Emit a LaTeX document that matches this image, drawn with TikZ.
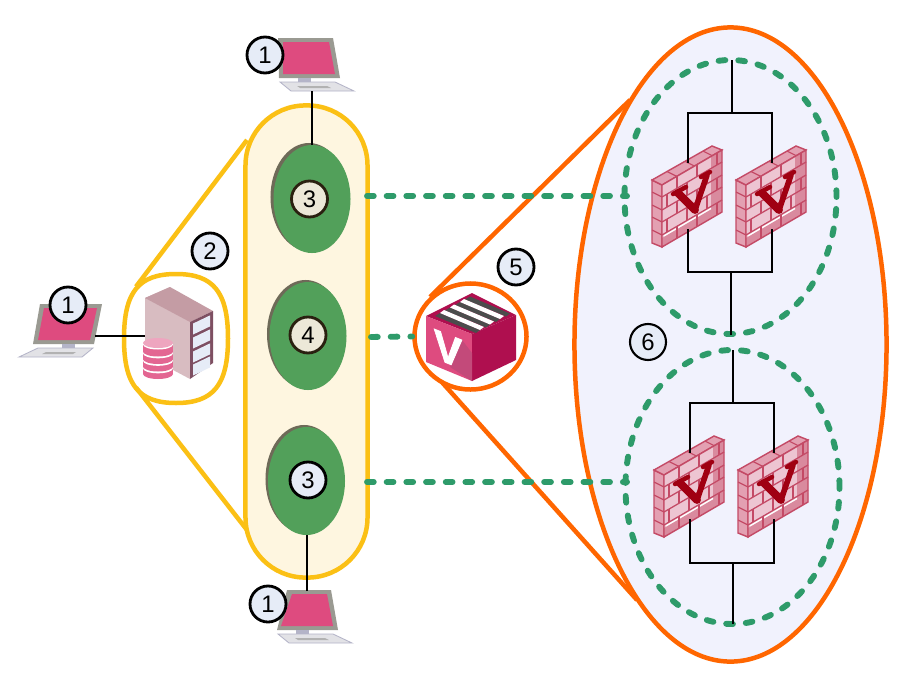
\documentclass[tikz,border=0pt]{standalone}
\usepackage{fontspec}
\setmainfont{Liberation Sans}
\newfontfamily\markfont[BoldFeatures={FakeBold=2}]{Liberation Sans}
\usetikzlibrary{shapes.geometric}
\definecolor{hubyellow}{HTML}{FBC015}
\definecolor{hubfill}{HTML}{FEF6E0}
\definecolor{vaultorange}{HTML}{FF6600}
\definecolor{vaultfill}{HTML}{F1F2FD}
\definecolor{zonegreen}{HTML}{52A05A}
\definecolor{zoneshade}{HTML}{6E6A58}
\definecolor{linkgreen}{HTML}{2E9B6A}
\definecolor{badgeblue}{HTML}{E6ECF7}
\definecolor{badgecream}{HTML}{ECE8D8}
\definecolor{badgedark}{HTML}{2A2010}
\definecolor{screenpink}{HTML}{DE4B7F}
\definecolor{framegrey}{HTML}{9A9A92}
\definecolor{standgrey}{HTML}{B4B4C8}
\definecolor{keysgrey}{HTML}{E2E2E6}
\definecolor{boxdark}{HTML}{AF0F4F}
\definecolor{boxmid}{HTML}{C34A7A}
\definecolor{brickface}{HTML}{EDC5D2}
\definecolor{brickside}{HTML}{E3A0B2}
\definecolor{brickshade}{HTML}{D98A9E}
\definecolor{brickline}{HTML}{C44A66}
\definecolor{markred}{HTML}{A00012}
\definecolor{towerleft}{HTML}{D8BCC1}
\definecolor{towertop}{HTML}{C49CA4}
\definecolor{towerdark}{HTML}{7E4F62}
\tikzset{
  badge/.style={draw=black, fill=badgeblue, circle, line width=2pt, minimum size=0.9cm, inner sep=0pt, font=\fontsize{17}{17}\selectfont},
  badgezone/.style={badge, draw=badgedark, fill=badgecream},
  zonenode/.style={ellipse, fill=zonegreen, minimum width=1.925cm, minimum height=2.7cm, inner sep=0pt},
  zoneback/.style={zonenode, fill=zoneshade},
  wire/.style={draw=black, line width=1.9pt},
  hubline/.style={draw=hubyellow, line width=3.2pt},
  vaultline/.style={draw=vaultorange, line width=3.2pt},
  tunnel/.style={draw=linkgreen, line width=4.2pt, line cap=round, dash pattern=on 4.8pt off 9.2pt},
  pics/laptop/.style 2 args={code={
    \fill[framegrey] (#1,-39) -- (#2,-39) -- (26,1) -- (-35,1) -- cycle;
    \fill[screenpink] (#1+4,-35) -- (#2-5,-35) -- (22,-3) -- (-30,-3) -- cycle;
    \fill[standgrey] (-6,1) rectangle (7,6);
    \filldraw[fill=keysgrey, draw=standgrey, line width=0.6pt] (-49,14) -- (-30,5) -- (25,5) -- (14,14) -- cycle;
    \fill[gray!60] (-26,11) -- (-22,9) -- (8,9) -- (5,11) -- cycle;
    \coordinate (-port) at (27,-7);
    \coordinate (-foot) at (-7,14);
    \coordinate (-head) at (-4,-38);
  }},
  firewall/.pic={
    \filldraw[fill=brickside, draw=brickline, line width=1pt] (0,0) -- (10,5) -- (10,67) -- (0,63) -- cycle;
    \filldraw[fill=brickside, draw=brickline, line width=1pt] (0,0) -- (60,-34) -- (70,-30) -- (10,5) -- cycle;
    \foreach \rowy in {12,25,37,50}
      \draw[brickline, line width=0.8pt] (0,\rowy) -- (10,\rowy+5);
    \foreach \jointt in {0.25,0.55,0.85}
      \draw[brickline, line width=0.8pt] (60*\jointt,-34*\jointt) -- (10+60*\jointt,5-34*\jointt);
    \begin{scope}[cm={1,0.583,0,1,(10,5)}]
      \fill[brickface] (0,0) rectangle (60,62);
      \fill[brickshade] (49,0) rectangle (60,62);
      \fill[brickshade] (0,53) rectangle (60,62);
      \draw[white, line width=0.9pt] (2,52) -- (49,52);
      \foreach \rowy in {12,25,37,50}
        \draw[brickline, line width=0.9pt] (0,\rowy) -- (60,\rowy);
      \foreach \jointx in {15,35,55} {
        \draw[brickline, line width=0.9pt] (\jointx,0) -- (\jointx,12);
        \draw[brickline, line width=0.9pt] (\jointx,25) -- (\jointx,37);
        \draw[brickline, line width=0.9pt] (\jointx,50) -- (\jointx,62);
      }
      \foreach \jointx in {5,25,45} {
        \draw[brickline, line width=0.9pt] (\jointx,12) -- (\jointx,25);
        \draw[brickline, line width=0.9pt] (\jointx,37) -- (\jointx,50);
      }
      \draw[brickline, line width=1pt] (0,0) rectangle (60,62);
    \end{scope}
    \draw[markred, line width=3.2pt, line cap=round] (21,14) -- (34,7);
    \draw[markred, line width=5.6pt, line cap=round] (26,13) -- (43,30);
    \draw[markred, line width=4pt, line cap=round] (43,30) -- (55,-5);
    \draw[markred, line width=3.2pt, line cap=round] (49,-3) -- (58,-8);
    \coordinate (-top) at (36,-17);
    \coordinate (-bot) at (36,49);
  },
  datatower/.pic={
    \fill[towerleft] (0,0) -- (25,-11) -- (45,24) -- (45,81) -- (0,57) -- cycle;
    \fill[towertop] (0,0) -- (25,-11) -- (68,13) -- (45,24) -- cycle;
    \fill[towerdark] (45,24) -- (68,13) -- (68,65) -- (45,81) -- cycle;
    \begin{scope}[cm={1,0.48,0,1,(45,24)}]
      \foreach \rowy in {3,17,31,44}
        \fill[badgeblue] (3,\rowy) rectangle (20,\rowy+11);
    \end{scope}
    \foreach \disky in {76,68.5,61,53.5} {
      \fill[white] (13,\disky+1.8) ellipse [x radius=15, y radius=5];
      \fill[screenpink!85!white] (13,\disky) ellipse [x radius=15, y radius=5];
      \fill[screenpink!85!white] (-2,\disky-7.5) rectangle (28,\disky);
    }
    \fill[white] (13,46.5) ellipse [x radius=15, y radius=5];
    \fill[screenpink!50!white] (13,45) ellipse [x radius=15, y radius=5];
    \coordinate (-port) at (0,38);
  },
  vaultbox/.pic={
    \fill[boxdark] (0,-41) -- (44,-19) -- (0,0) -- (-46,-18) -- cycle;
    \fill[screenpink] (-46,-18) -- (0,0) -- (0,47) -- (-46,28) -- cycle;
    \fill[boxdark] (0,0) -- (44,-19) -- (44,26) -- (0,47) -- cycle;
    \fill[boxmid] (-22,33) -- (0,47) -- (0,19) -- (-10,6) -- cycle;
    \foreach \stepn in {0,1,2,3}
      \fill[gray!60!black] (-37+10*\stepn,-18-5.5*\stepn) -- (-32+10*\stepn,-21-5.5*\stepn) -- (8+10*\stepn,-4-5.5*\stepn) -- (4+10*\stepn,-1-5.5*\stepn) -- cycle;
    \foreach \stepn in {0,1,2}
      \fill[white] (-32+10*\stepn,-21-5.5*\stepn) -- (-28+10*\stepn,-24-5.5*\stepn) -- (12+10*\stepn,-7-5.5*\stepn) -- (8+10*\stepn,-4-5.5*\stepn) -- cycle;
    \node[text=white, font=\markfont\bfseries\fontsize{30}{30}\selectfont, inner sep=0pt, yslant=-0.4, transform shape] (-mark) at (-24,15) {V};
  }
}
\begin{document}
\begin{tikzpicture}[x=0.025cm, y=-0.025cm]
\useasboundingbox (0,0) rectangle (912,684);
\fill[white] (0,0) rectangle (912,684);

\coordinate (hubupper) at (136,286.6);
\coordinate (hublower) at (136,387.5);
\coordinate (capupper) at (247,140);
\coordinate (caplower) at (247,530);
\draw[hubline] (hubupper) -- (capupper);
\draw[hubline] (hublower) -- (caplower);
\node[draw=hubyellow, fill=hubfill, line width=3.2pt, rectangle, rounded corners=1.5cm, minimum width=3.05cm, minimum height=11.8cm] (capsule) at (306.5,341.5) {};
\draw[hubline] (176,274) .. controls (138.6,274) and (124,292) .. (124,338.5) .. controls (124,385) and (138.6,403) .. (176,403) .. controls (213.4,403) and (228,385) .. (228,338.5) .. controls (228,292) and (213.4,274) .. (176,274) -- cycle;

\coordinate (vaultupper) at (430,297);
\coordinate (vaultlower) at (440,380);
\coordinate (farupper) at (630,100);
\coordinate (farlower) at (637,600);
\draw[vaultline] (vaultupper) -- (farupper);
\draw[vaultline] (vaultlower) -- (farlower);
\node[draw=vaultorange, fill=vaultfill, line width=3.2pt, ellipse, minimum width=7.8cm, minimum height=15.85cm, inner sep=0pt] (gateway) at (730.5,344.5) {};
\node[draw=vaultorange, fill=white, line width=3.2pt, ellipse, minimum width=2.8cm, minimum height=2.65cm, inner sep=0pt] (vault) at (470.5,336.5) {};

\node[draw=linkgreen, line width=4.2pt, dash pattern=on 4.8pt off 9.2pt, line cap=round, ellipse, minimum width=5.3cm, minimum height=6.85cm, inner sep=0pt] (clusterA) at (730.5,197) {};
\node[draw=linkgreen, line width=4.2pt, dash pattern=on 4.8pt off 9.2pt, line cap=round, ellipse, minimum width=5.35cm, minimum height=6.85cm, inner sep=0pt] (clusterB) at (732.5,487) {};

\node[zoneback] (zoneAback) at (309,197) {};
\node[zonenode] (zoneA) at (312,199) {};
\node[zoneback] (zoneBback) at (305.5,334) {};
\node[zonenode] (zoneB) at (308,336) {};
\node[zoneback] (zoneCback) at (304,479) {};
\node[zonenode] (zoneC) at (306.5,481) {};

\pic (lapleft) at (68,343) {laptop={-28}{34}};
\pic[xscale=-1] (laptop) at (305,77) {laptop={-28}{27}};
\pic[xscale=-1] (lapbottom) at (303,629) {laptop={-28}{16}};
\pic (tower) at (145,298) {datatower};
\pic (box) at (472,334) {vaultbox};
\pic (fwA) at (652,180) {firewall};
\pic (fwB) at (736,180) {firewall};
\pic (fwC) at (654,470) {firewall};
\pic (fwD) at (738,470) {firewall};

\draw[wire] (lapleft-port) -- (tower-port);
\draw[wire] (laptop-foot) -- (laptop-foot |- zoneA.north);
\draw[wire] (lapbottom-head) -- (lapbottom-head |- zoneC.south);

\coordinate (forkAin) at (732,60);
\coordinate (forkA) at (732,113);
\coordinate (mergeA) at (731,272);
\coordinate (joinA) at (731,335);
\coordinate (forkBin) at (733,350);
\coordinate (forkB) at (733,403);
\coordinate (mergeB) at (733,563);
\coordinate (joinB) at (733,624);
\draw[wire] (forkAin) -- (forkA);
\draw[wire] (fwA-top) |- (forkA) -| (fwB-top);
\draw[wire] (fwA-bot) |- (mergeA) -| (fwB-bot);
\draw[wire] (mergeA) -- (joinA);
\draw[wire] (forkBin) -- (forkB);
\draw[wire] (fwC-top) |- (forkB) -| (fwD-top);
\draw[wire] (fwC-bot) |- (mergeB) -| (fwD-bot);
\draw[wire] (mergeB) -- (joinB);

\coordinate (capA) at (367,196);
\coordinate (capB) at (371,337);
\coordinate (capC) at (367,482);
\coordinate (clusterAw) at (627,196);
\coordinate (clusterBw) at (627,482);
\draw[tunnel] (capA) -- (clusterAw);
\draw[tunnel] (capB) -- (vault.west);
\draw[tunnel] (capC) -- (clusterBw);

\node[badge] (badgeleft) at (68,305) {1};
\node[badge] (badgetop) at (265,55) {1};
\node[badge] (badgebottom) at (268,604) {1};
\node[badge] (badgehub) at (210,251) {2};
\node[badgezone] (badgezoneA) at (309.5,199) {3};
\node[badgezone] (badgezoneB) at (308,335) {4};
\node[badge] (badgezoneC) at (308,480) {3};
\node[badge] (badgevault) at (516,267) {5};
\node[badge, line width=1.5pt] (badgegate) at (648,342) {6};
\end{tikzpicture}
\end{document}
